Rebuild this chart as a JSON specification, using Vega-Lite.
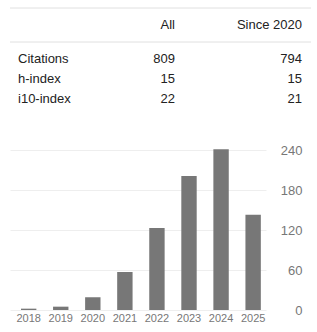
{
  "$schema": "https://vega.github.io/schema/vega-lite/v6.json",
  "padding": {"left": 9, "top": 7, "right": 0, "bottom": 0},
  "bounds": "flush",
  "spacing": 17,
  "config": {
    "view": {"stroke": null},
    "font": "Liberation Sans",
    "text": {"font": "Liberation Sans", "fontSize": 13, "color": "#222"}
  },
  "datasets": {
    "header": [{"col": "All"}, {"col": "Since 2020"}],
    "lines": [{"line": "top"}, {"line": "mid"}],
    "metrics": [
      {"metric": "Citations", "all": 809, "since2020": 794},
      {"metric": "h-index", "all": 15, "since2020": 15},
      {"metric": "i10-index", "all": 22, "since2020": 21}
    ],
    "citations": [
      {"year": "2018", "count": 2},
      {"year": "2019", "count": 5},
      {"year": "2020", "count": 19},
      {"year": "2021", "count": 57},
      {"year": "2022", "count": 123},
      {"year": "2023", "count": 201},
      {"year": "2024", "count": 241},
      {"year": "2025", "count": 143}
    ]
  },
  "vconcat": [
    {
      "width": 301,
      "height": 34,
      "resolve": {"scale": {"x": "independent"}},
      "layer": [
        {
          "data": {"name": "lines"},
          "mark": {"type": "rule", "color": "#e0e0e0", "strokeWidth": 1},
          "encoding": {
            "y": {"field": "line", "type": "nominal", "scale": {"type": "point", "domain": ["top", "header", "mid"], "padding": 0}, "axis": null}
          }
        },
        {
          "data": {"name": "header"},
          "encoding": {
            "x": {"field": "col", "type": "nominal", "scale": {"type": "point", "domain": ["label", "All", "Since 2020"], "padding": 0.06, "align": 0.47}, "axis": null},
            "y": {"datum": "header", "type": "nominal"},
            "text": {"field": "col", "type": "nominal"}
          },
          "layer": [
            {
              "transform": [{"filter": "datum.col === 'All'"}],
              "mark": {"type": "text", "align": "right", "baseline": "middle", "dx": 15}
            },
            {
              "transform": [{"filter": "datum.col !== 'All'"}],
              "mark": {"type": "text", "align": "right", "baseline": "middle"}
            }
          ]
        }
      ]
    },
    {
      "width": 301,
      "height": 73.5,
      "data": {"name": "metrics"},
      "encoding": {
        "y": {"field": "metric", "type": "nominal", "scale": {"type": "point", "domain": ["Citations", "h-index", "i10-index"], "padding": 0.8375, "align": 0}, "axis": null}
      },
      "layer": [
        {
          "mark": {"type": "text", "align": "left", "baseline": "middle"},
          "encoding": {
            "x": {"datum": "label", "type": "nominal", "scale": {"type": "point", "domain": ["label", "All", "Since 2020"], "padding": 0.06, "align": 0.47}, "axis": null},
            "text": {"field": "metric", "type": "nominal"}
          }
        },
        {
          "mark": {"type": "text", "align": "right", "baseline": "middle", "dx": 15},
          "encoding": {
            "x": {"datum": "All", "type": "nominal"},
            "text": {"field": "all", "type": "quantitative"}
          }
        },
        {
          "mark": {"type": "text", "align": "right", "baseline": "middle"},
          "encoding": {
            "x": {"datum": "Since 2020", "type": "nominal"},
            "text": {"field": "since2020", "type": "quantitative"}
          }
        }
      ]
    },
    {
      "width": 256,
      "height": 160,
      "data": {"name": "citations"},
      "mark": {"type": "bar", "color": "#777777"},
      "encoding": {
        "x": {
          "field": "year", "type": "ordinal",
          "scale": {"type": "band", "paddingInner": 0.52, "paddingOuter": 0.252, "align": 0.68},
          "axis": {"title": null, "labelAngle": 0, "ticks": false, "tickSize": 0, "domain": false, "labelFont": "Liberation Sans", "labelFontSize": 11, "labelColor": "#777777", "labelPadding": 2}
        },
        "y": {
          "field": "count", "type": "quantitative",
          "scale": {"domain": [0, 240], "nice": false},
          "axis": {"title": null, "orient": "right", "values": [0, 60, 120, 180, 240], "ticks": false, "tickSize": 0, "domain": false, "grid": true, "gridColor": "#eeeeee", "labelFont": "Liberation Sans", "labelFontSize": 13, "labelColor": "#777777", "labelAlign": "right", "labelPadding": 36}
        }
      }
    }
  ]
}
